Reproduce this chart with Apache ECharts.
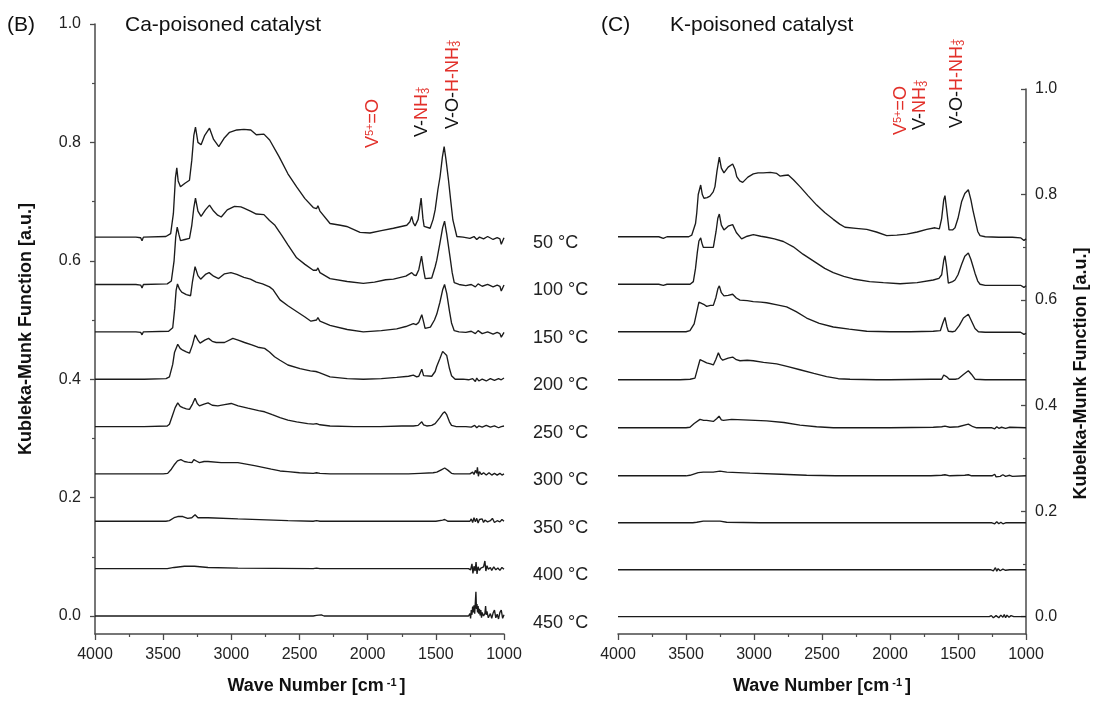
<!DOCTYPE html>
<html>
<head>
<meta charset="utf-8">
<script src="https://cdn.jsdelivr.net/npm/echarts@6/dist/echarts.min.js"></script>
<style>
html,body{margin:0;padding:0;background:#fff;}
#chart{width:1101px;height:705px;}
</style>
</head>
<body>
<div id="chart"></div>
<script>
// ---------- DATA (wave number cm-1, Kubelka-Munk value incl. stacking offset) ----------
const temperatures = ['50 °C','100 °C','150 °C','200 °C','250 °C','300 °C','350 °C','400 °C','450 °C'];
const yTickValues = [0, 0.2, 0.4, 0.6, 0.8, 1.0];
const yMinorValues = [0.1, 0.3, 0.5, 0.7, 0.9];

// Ca-poisoned catalyst (panel B)
const ca50 = [[4000,0.640],[3700,0.640],[3665,0.639],[3655,0.634],[3645,0.640],[3480,0.641],[3445,0.646],[3425,0.680],[3410,0.740],[3400,0.757],[3390,0.735],[3373,0.725],[3340,0.731],[3307,0.736],[3290,0.770],[3275,0.812],[3263,0.826],[3245,0.800],[3222,0.796],[3195,0.812],[3160,0.824],[3130,0.805],[3092,0.793],[3050,0.808],[3013,0.817],[2960,0.821],[2908,0.822],[2857,0.821],[2817,0.813],[2761,0.814],[2719,0.804],[2650,0.776],[2585,0.747],[2521,0.725],[2460,0.705],[2399,0.690],[2375,0.688],[2365,0.693],[2350,0.684],[2276,0.663],[2200,0.660],[2154,0.658],[2056,0.648],[1983,0.647],[1900,0.651],[1811,0.655],[1713,0.660],[1690,0.666],[1677,0.675],[1665,0.664],[1652,0.659],[1630,0.670],[1608,0.706],[1595,0.672],[1586,0.658],[1542,0.655],[1520,0.670],[1505,0.686],[1485,0.720],[1469,0.742],[1452,0.775],[1439,0.793],[1425,0.770],[1407,0.736],[1390,0.700],[1375,0.669],[1346,0.641],[1300,0.640],[1250,0.638],[1220,0.641],[1200,0.636],[1180,0.640],[1150,0.637],[1120,0.641],[1080,0.636],[1050,0.639],[1030,0.637],[1020,0.628],[1012,0.630],[1000,0.639]];
const ca100 = [[4000,0.560],[3700,0.560],[3665,0.559],[3655,0.554],[3645,0.560],[3470,0.561],[3440,0.566],[3420,0.600],[3408,0.640],[3397,0.657],[3385,0.645],[3373,0.634],[3340,0.636],[3307,0.638],[3290,0.660],[3275,0.690],[3263,0.706],[3245,0.684],[3222,0.675],[3190,0.686],[3160,0.694],[3130,0.684],[3100,0.677],[3074,0.674],[3030,0.686],[2977,0.692],[2930,0.691],[2908,0.689],[2860,0.684],[2817,0.679],[2761,0.678],[2720,0.668],[2680,0.660],[2630,0.643],[2585,0.627],[2521,0.605],[2460,0.594],[2399,0.584],[2375,0.584],[2365,0.588],[2350,0.580],[2276,0.570],[2150,0.565],[2032,0.562],[1950,0.564],[1868,0.568],[1811,0.569],[1720,0.574],[1677,0.580],[1660,0.576],[1645,0.575],[1625,0.585],[1605,0.608],[1590,0.585],[1578,0.570],[1530,0.571],[1505,0.590],[1493,0.601],[1470,0.630],[1450,0.656],[1436,0.667],[1420,0.645],[1395,0.605],[1380,0.580],[1365,0.563],[1330,0.560],[1280,0.558],[1240,0.560],[1210,0.556],[1190,0.561],[1160,0.557],[1120,0.560],[1080,0.556],[1050,0.559],[1030,0.557],[1020,0.549],[1010,0.552],[1000,0.559]];
const ca150 = [[4000,0.480],[3700,0.480],[3665,0.479],[3655,0.475],[3645,0.480],[3460,0.481],[3430,0.487],[3415,0.520],[3405,0.550],[3395,0.561],[3380,0.552],[3364,0.547],[3330,0.543],[3299,0.541],[3285,0.565],[3266,0.590],[3245,0.575],[3225,0.569],[3190,0.577],[3163,0.580],[3130,0.574],[3093,0.570],[3050,0.578],[3003,0.580],[2960,0.577],[2908,0.572],[2860,0.569],[2817,0.564],[2771,0.561],[2720,0.556],[2693,0.551],[2643,0.534],[2585,0.524],[2513,0.513],[2460,0.505],[2416,0.498],[2375,0.500],[2365,0.504],[2350,0.498],[2276,0.491],[2150,0.484],[2032,0.480],[1900,0.482],[1787,0.485],[1720,0.489],[1665,0.494],[1645,0.492],[1625,0.496],[1603,0.509],[1588,0.495],[1579,0.486],[1540,0.488],[1510,0.500],[1493,0.510],[1470,0.530],[1450,0.551],[1436,0.560],[1420,0.545],[1400,0.515],[1385,0.495],[1365,0.482],[1330,0.480],[1280,0.479],[1240,0.481],[1210,0.477],[1190,0.482],[1160,0.477],[1120,0.480],[1080,0.476],[1050,0.479],[1030,0.477],[1020,0.471],[1010,0.474],[1000,0.479]];
const ca200 = [[4000,0.400],[3700,0.400],[3660,0.400],[3650,0.397],[3640,0.400],[3479,0.401],[3454,0.404],[3430,0.425],[3417,0.445],[3393,0.459],[3375,0.452],[3356,0.449],[3330,0.446],[3307,0.444],[3285,0.458],[3266,0.475],[3245,0.466],[3229,0.461],[3195,0.466],[3167,0.469],[3140,0.464],[3111,0.462],[3050,0.462],[2989,0.469],[2950,0.466],[2903,0.462],[2850,0.458],[2805,0.454],[2756,0.452],[2720,0.446],[2683,0.438],[2643,0.432],[2585,0.424],[2496,0.418],[2420,0.414],[2380,0.413],[2370,0.416],[2355,0.411],[2276,0.404],[2150,0.401],[2032,0.400],[1900,0.401],[1787,0.403],[1700,0.405],[1665,0.407],[1640,0.404],[1625,0.405],[1603,0.417],[1590,0.406],[1579,0.404],[1530,0.405],[1505,0.413],[1493,0.422],[1470,0.435],[1450,0.447],[1436,0.450],[1420,0.440],[1400,0.418],[1385,0.406],[1358,0.400],[1300,0.400],[1260,0.399],[1230,0.401],[1210,0.396],[1200,0.402],[1185,0.397],[1160,0.400],[1130,0.397],[1100,0.401],[1070,0.398],[1040,0.401],[1020,0.399],[1000,0.402]];
const ca250 = [[4000,0.320],[3700,0.320],[3660,0.320],[3650,0.317],[3640,0.320],[3470,0.321],[3454,0.324],[3430,0.340],[3412,0.352],[3393,0.360],[3375,0.354],[3356,0.352],[3330,0.350],[3307,0.349],[3285,0.358],[3266,0.368],[3250,0.359],[3234,0.355],[3200,0.358],[3171,0.360],[3140,0.356],[3099,0.355],[3050,0.357],[3001,0.359],[2950,0.355],[2879,0.351],[2800,0.347],[2756,0.345],[2700,0.340],[2643,0.335],[2585,0.331],[2521,0.328],[2440,0.325],[2399,0.324],[2375,0.325],[2365,0.327],[2350,0.323],[2276,0.321],[2100,0.320],[1909,0.320],[1750,0.321],[1665,0.321],[1630,0.322],[1603,0.328],[1590,0.323],[1567,0.321],[1530,0.322],[1505,0.325],[1470,0.335],[1450,0.342],[1435,0.345],[1420,0.340],[1400,0.328],[1385,0.322],[1350,0.320],[1280,0.320],[1240,0.319],[1215,0.322],[1200,0.318],[1185,0.321],[1160,0.319],[1130,0.322],[1100,0.319],[1070,0.321],[1040,0.318],[1020,0.320],[1000,0.321]];
const ca300 = [[4000,0.240],[3500,0.240],[3467,0.241],[3440,0.248],[3420,0.255],[3395,0.262],[3370,0.264],[3345,0.261],[3320,0.260],[3289,0.259],[3275,0.264],[3266,0.267],[3250,0.261],[3234,0.259],[3200,0.261],[3171,0.261],[3075,0.259],[2952,0.259],[2830,0.254],[2707,0.248],[2643,0.245],[2585,0.244],[2500,0.242],[2399,0.241],[2375,0.242],[2365,0.244],[2350,0.241],[2276,0.240],[2000,0.240],[1700,0.240],[1615,0.241],[1520,0.242],[1493,0.243],[1460,0.247],[1435,0.250],[1410,0.246],[1385,0.241],[1365,0.240],[1300,0.240],[1250,0.240],[1230,0.243],[1220,0.239],[1210,0.246],[1200,0.241],[1195,0.251],[1188,0.236],[1180,0.244],[1165,0.239],[1150,0.242],[1130,0.238],[1110,0.242],[1090,0.238],[1070,0.241],[1050,0.238],[1030,0.241],[1015,0.238],[1000,0.240]];
const ca350 = [[4000,0.160],[3480,0.160],[3454,0.161],[3420,0.166],[3393,0.168],[3356,0.168],[3320,0.165],[3290,0.166],[3266,0.171],[3245,0.166],[3171,0.166],[2952,0.164],[2585,0.161],[2400,0.160],[2375,0.161],[2365,0.163],[2350,0.160],[2000,0.160],[1500,0.160],[1450,0.162],[1435,0.163],[1410,0.160],[1300,0.160],[1250,0.160],[1240,0.164],[1230,0.158],[1220,0.166],[1210,0.159],[1200,0.165],[1190,0.157],[1180,0.163],[1170,0.160],[1160,0.164],[1150,0.158],[1140,0.162],[1120,0.159],[1100,0.161],[1085,0.165],[1070,0.158],[1050,0.161],[1030,0.159],[1015,0.163],[1000,0.160]];
const ca400 = [[4000,0.080],[3470,0.080],[3420,0.082],[3344,0.084],[3270,0.084],[3171,0.082],[2952,0.081],[2400,0.080],[2375,0.081],[2365,0.083],[2350,0.080],[1500,0.080],[1260,0.080],[1245,0.078],[1235,0.088],[1228,0.072],[1220,0.084],[1212,0.076],[1205,0.091],[1198,0.071],[1190,0.083],[1180,0.077],[1170,0.081],[1160,0.078],[1150,0.083],[1140,0.093],[1133,0.076],[1125,0.085],[1115,0.079],[1100,0.082],[1090,0.077],[1075,0.083],[1060,0.078],[1045,0.081],[1030,0.077],[1015,0.082],[1000,0.079]];
const ca450 = [[4000,0.000],[2400,0.000],[2375,0.001],[2365,0.003],[2340,0.002],[2320,0.000],[1500,0.000],[1260,0.000],[1250,0.004],[1245,-0.004],[1240,0.010],[1235,0.002],[1230,0.016],[1225,0.006],[1220,0.018],[1215,0.004],[1210,0.024],[1206,0.041],[1202,0.012],[1198,0.020],[1194,0.006],[1190,0.017],[1185,0.004],[1180,0.012],[1175,0.001],[1170,0.010],[1165,-0.003],[1160,0.006],[1150,0.000],[1140,0.004],[1135,0.017],[1130,0.002],[1125,0.008],[1115,-0.003],[1100,0.004],[1090,-0.004],[1080,0.005],[1070,0.010],[1060,-0.003],[1050,0.003],[1040,-0.005],[1030,0.006],[1020,0.010],[1010,-0.004],[1000,0.002]];

// K-poisoned catalyst (panel C)
const k50 = [[4000,0.720],[3700,0.720],[3667,0.717],[3640,0.720],[3480,0.720],[3458,0.723],[3430,0.745],[3421,0.765],[3410,0.800],[3392,0.818],[3380,0.800],[3368,0.793],[3345,0.794],[3324,0.797],[3300,0.805],[3287,0.815],[3272,0.845],[3255,0.871],[3240,0.850],[3221,0.841],[3190,0.852],[3157,0.858],[3140,0.848],[3127,0.834],[3105,0.826],[3083,0.823],[3045,0.833],[3005,0.839],[2970,0.841],[2932,0.841],[2880,0.842],[2833,0.840],[2809,0.835],[2780,0.836],[2748,0.837],[2710,0.828],[2662,0.815],[2600,0.797],[2539,0.780],[2480,0.766],[2417,0.753],[2370,0.744],[2331,0.738],[2250,0.736],[2171,0.734],[2100,0.729],[2024,0.722],[1950,0.723],[1877,0.725],[1800,0.729],[1730,0.734],[1669,0.737],[1637,0.735],[1620,0.755],[1605,0.790],[1596,0.798],[1585,0.775],[1566,0.733],[1540,0.733],[1522,0.737],[1500,0.755],[1473,0.787],[1450,0.802],[1424,0.809],[1405,0.790],[1390,0.770],[1375,0.753],[1355,0.730],[1338,0.722],[1300,0.720],[1200,0.719],[1100,0.719],[1040,0.718],[1015,0.713],[1000,0.716]];
const k100 = [[4000,0.630],[3700,0.630],[3667,0.628],[3640,0.630],[3470,0.630],[3446,0.635],[3430,0.660],[3417,0.690],[3405,0.712],[3392,0.718],[3383,0.708],[3373,0.700],[3340,0.700],[3299,0.700],[3279,0.730],[3266,0.755],[3255,0.763],[3240,0.742],[3221,0.733],[3190,0.740],[3157,0.743],[3130,0.728],[3091,0.716],[3050,0.721],[3005,0.724],[2950,0.721],[2907,0.719],[2850,0.716],[2784,0.711],[2711,0.701],[2640,0.687],[2539,0.670],[2480,0.660],[2417,0.652],[2340,0.645],[2270,0.640],[2150,0.635],[2049,0.633],[1926,0.631],[1800,0.633],[1682,0.638],[1640,0.641],[1620,0.648],[1605,0.675],[1596,0.684],[1585,0.665],[1571,0.632],[1540,0.635],[1522,0.638],[1500,0.648],[1473,0.668],[1450,0.683],[1424,0.689],[1405,0.677],[1390,0.664],[1375,0.651],[1355,0.636],[1338,0.630],[1300,0.628],[1200,0.628],[1100,0.628],[1040,0.628],[1015,0.624],[1000,0.627]];
const k150 = [[4000,0.540],[3700,0.540],[3500,0.540],[3471,0.542],[3440,0.555],[3421,0.577],[3405,0.596],[3392,0.599],[3370,0.592],[3348,0.588],[3320,0.590],[3299,0.590],[3280,0.605],[3265,0.622],[3255,0.627],[3240,0.614],[3221,0.608],[3190,0.609],[3157,0.611],[3130,0.604],[3103,0.600],[3050,0.599],[3005,0.597],[2950,0.596],[2907,0.595],[2830,0.591],[2760,0.587],[2690,0.578],[2613,0.566],[2520,0.556],[2417,0.549],[2300,0.545],[2171,0.541],[2000,0.540],[1850,0.540],[1682,0.541],[1630,0.542],[1612,0.556],[1596,0.567],[1582,0.550],[1571,0.541],[1540,0.540],[1522,0.541],[1490,0.552],[1460,0.566],[1424,0.573],[1400,0.560],[1375,0.546],[1350,0.540],[1300,0.539],[1200,0.539],[1100,0.539],[1040,0.539],[1015,0.535],[1000,0.537]];
const k200 = [[4000,0.449],[3544,0.449],[3470,0.450],[3434,0.452],[3415,0.470],[3397,0.487],[3370,0.484],[3348,0.481],[3320,0.479],[3299,0.477],[3280,0.488],[3262,0.500],[3245,0.490],[3230,0.486],[3190,0.490],[3157,0.492],[3130,0.487],[3103,0.485],[3050,0.486],[3005,0.485],[2930,0.482],[2833,0.479],[2750,0.474],[2662,0.468],[2560,0.461],[2466,0.455],[2380,0.451],[2294,0.450],[2100,0.449],[2024,0.449],[2015,0.447],[2000,0.449],[1700,0.450],[1620,0.450],[1605,0.458],[1596,0.461],[1585,0.455],[1564,0.450],[1520,0.450],[1498,0.451],[1460,0.459],[1424,0.466],[1400,0.459],[1375,0.450],[1300,0.449],[1200,0.449],[1000,0.449]];
const k250 = [[4000,0.358],[3500,0.358],[3471,0.359],[3440,0.366],[3397,0.374],[3370,0.372],[3348,0.372],[3299,0.370],[3275,0.375],[3257,0.380],[3240,0.373],[3225,0.372],[3164,0.374],[3078,0.373],[2907,0.371],[2780,0.368],[2662,0.363],[2540,0.360],[2417,0.358],[2000,0.358],[1682,0.359],[1620,0.360],[1596,0.361],[1560,0.359],[1498,0.360],[1424,0.365],[1390,0.360],[1363,0.358],[1250,0.358],[1230,0.356],[1215,0.360],[1200,0.357],[1180,0.359],[1150,0.357],[1120,0.359],[1000,0.358]];
const k300 = [[4000,0.267],[3500,0.267],[3471,0.268],[3410,0.273],[3373,0.274],[3300,0.274],[3250,0.276],[3200,0.274],[3030,0.272],[2800,0.270],[2613,0.268],[2400,0.267],[1700,0.267],[1620,0.268],[1596,0.269],[1560,0.267],[1450,0.268],[1424,0.269],[1400,0.267],[1250,0.267],[1230,0.270],[1220,0.265],[1210,0.268],[1190,0.266],[1170,0.269],[1150,0.266],[1120,0.268],[1100,0.266],[1000,0.267]];
const k350 = [[4000,0.178],[3450,0.178],[3421,0.179],[3373,0.181],[3300,0.181],[3250,0.181],[3201,0.179],[2956,0.178],[1250,0.178],[1230,0.176],[1215,0.180],[1200,0.176],[1185,0.179],[1170,0.176],[1150,0.178],[1000,0.178]];
const k400 = [[4000,0.089],[1260,0.089],[1240,0.087],[1225,0.093],[1215,0.086],[1205,0.091],[1190,0.087],[1170,0.090],[1150,0.088],[1120,0.089],[1000,0.089]];
const k450 = [[4000,0.000],[1270,0.000],[1255,0.002],[1240,-0.002],[1220,0.002],[1200,-0.002],[1185,0.003],[1170,-0.001],[1160,0.004],[1150,-0.002],[1140,0.003],[1125,-0.001],[1110,0.002],[1090,0.000],[1000,0.000]];

const caSeries = [ca50, ca100, ca150, ca200, ca250, ca300, ca350, ca400, ca450];
const kSeries  = [k50, k100, k150, k200, k250, k300, k350, k400, k450];

// ---------- CHART ----------
const FONT = 'Liberation Sans, Arial, Helvetica, sans-serif';
const RED = '#e2302a';
const AX = '#4a4a4a';
const chart = echarts.init(document.getElementById('chart'), null, {renderer:'canvas'});

function xAxisCfg(grid, namePad) {
  return {
    gridIndex: grid, type: 'value', min: 1000, max: 4000, interval: 500, inverse: true,
    axisLine: {show: true, onZero: false, lineStyle: {color: AX, width: 1.5}},
    axisTick: {show: true, inside: false, length: 6, lineStyle: {color: AX, width: 1.3}},
    minorTick: {show: true, splitNumber: 2, length: 3, lineStyle: {color: AX, width: 1.2}},
    splitLine: {show: false},
    axisLabel: {color: '#222', fontSize: 16, fontFamily: FONT, margin: 13, formatter: v => String(Math.round(v))},
    name: '{a|Wave Number [cm}{s|-1}{a|]}',
    nameLocation: 'middle', nameGap: 43,
    nameTextStyle: {
      padding: namePad,
      rich: {
        a: {fontSize: 18, fontWeight: 'bold', fontFamily: FONT, color: '#111'},
        s: {fontSize: 11, fontWeight: 'bold', fontFamily: FONT, color: '#111', verticalAlign: 'top', padding: [0, 3, 0, 3]}
      }
    }
  };
}

function yAxisMain(grid, pos, min, name, gap, namePad, inside) {
  return {
    gridIndex: grid, type: 'value', position: pos, min: min, max: 1.0,
    axisLine: {show: true, onZero: false, lineStyle: {color: AX, width: 1.5}},
    axisTick: {show: true, inside: inside, length: 5, customValues: yTickValues, lineStyle: {color: AX, width: 1.3}},
    axisLabel: {show: true, customValues: yTickValues, color: '#222', fontSize: 16, fontFamily: FONT,
      margin: pos === 'left' ? 14 : 9, formatter: v => Number(v).toFixed(1)},
    splitLine: {show: false},
    name: name, nameLocation: 'middle', nameRotate: 90, nameGap: gap,
    nameTextStyle: {fontSize: 18, fontWeight: 'bold', fontFamily: FONT, color: '#111', padding: namePad}
  };
}
function yAxisMinor(grid, pos, min, inside) {
  return {
    gridIndex: grid, type: 'value', position: pos, min: min, max: 1.0,
    axisLine: {show: false},
    axisTick: {show: true, inside: inside, length: 3, customValues: yMinorValues, lineStyle: {color: AX, width: 1.2}},
    axisLabel: {show: false},
    splitLine: {show: false}
  };
}

const series = [];
caSeries.forEach((d, i) => series.push({
  name: 'Ca ' + temperatures[i], type: 'line', xAxisIndex: 0, yAxisIndex: 0, data: d,
  showSymbol: false, symbol: 'none', clip: false, silent: true,
  lineStyle: {color: '#1b1b1b', width: 1.35}
}));
kSeries.forEach((d, i) => series.push({
  name: 'K ' + temperatures[i], type: 'line', xAxisIndex: 1, yAxisIndex: 2, data: d,
  showSymbol: false, symbol: 'none', clip: false, silent: true,
  lineStyle: {color: '#1b1b1b', width: 1.35}
}));

// Rotated band-assignment labels
const richAnno = {
  r: {fontSize: 18, fontFamily: FONT, fill: RED},
  k: {fontSize: 18, fontFamily: FONT, fill: '#111'},
  rsup: {fontSize: 11, fontFamily: FONT, fill: RED, verticalAlign: 'top'},
  rsub: {fontSize: 11, fontFamily: FONT, fill: RED, verticalAlign: 'bottom', width: 1}
};
function anno(x, y, text) {
  return {type: 'text', x: x, y: y, rotation: Math.PI / 2, z: 100,
    style: {text: text, rich: richAnno, align: 'left', verticalAlign: 'middle'}};
}
const annoV5 = '{r|V}{rsup|5+}{r|=O}';
const annoVNH = '{k|V-}{r|NH}{rsub|3}{rsup|+}';
const annoVOH = '{k|V-O-}{r|H-NH}{rsub|3}{rsup|+}';

const graphics = [
  {type: 'text', x: 7, y: 25, style: {text: '(B)', fontSize: 21, fontFamily: FONT, fill: '#111', verticalAlign: 'middle'}},
  {type: 'text', x: 125, y: 25, style: {text: 'Ca-poisoned catalyst', fontSize: 21, fontFamily: FONT, fill: '#111', verticalAlign: 'middle'}},
  {type: 'text', x: 601, y: 25, style: {text: '(C)', fontSize: 21, fontFamily: FONT, fill: '#111', verticalAlign: 'middle'}},
  {type: 'text', x: 670, y: 25, style: {text: 'K-poisoned catalyst', fontSize: 21, fontFamily: FONT, fill: '#111', verticalAlign: 'middle'}},
  anno(373, 148, annoV5),
  anno(422, 137, annoVNH),
  anno(453, 129, annoVOH),
  anno(901, 135, annoV5),
  anno(920, 130, annoVNH),
  anno(957, 128, annoVOH)
];
temperatures.forEach((t, i) => graphics.push({
  type: 'text', x: 533, y: 243 + i * 47.5,
  style: {text: t, fontSize: 18, fontFamily: FONT, fill: '#222', verticalAlign: 'middle'}
}));

chart.setOption({
  backgroundColor: '#ffffff',
  animation: false,
  textStyle: {fontFamily: FONT},
  grid: [
    {left: 95, right: 597, top: 24, bottom: 71, containLabel: false},
    {left: 618, right: 75, top: 89, bottom: 71, containLabel: false}
  ],
  xAxis: [xAxisCfg(0, [0, 0, 0, 34]), xAxisCfg(1, [0, 0, 0, 0])],
  yAxis: [
    yAxisMain(0, 'left', -0.0304, 'Kubleka-Munk Function [a.u.]', 60, [0, 0, 0, 0], false),
    yAxisMinor(0, 'left', -0.0304, false),
    yAxisMain(1, 'right', -0.0328, 'Kubelka-Munk Function [a.u.]', 46, [0, 24, 0, 0], true),
    yAxisMinor(1, 'right', -0.0328, true)
  ],
  series: series,
  graphic: graphics
});
</script>
</body>
</html>
